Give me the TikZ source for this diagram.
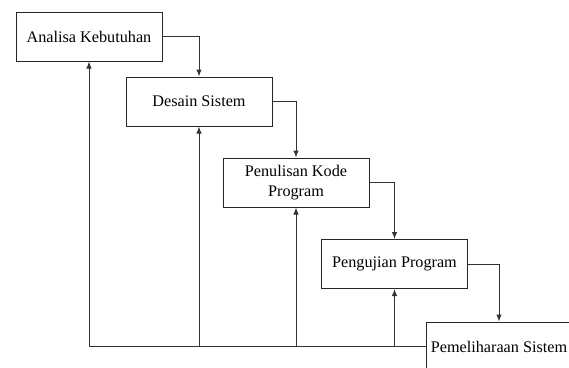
\documentclass[tikz,border=0pt]{standalone}
\usepackage{fontspec}
\setmainfont{Liberation Serif}
\usetikzlibrary{arrows.meta}
\begin{document}
\begin{tikzpicture}[line join=miter, >={Latex[length=7pt,width=5.5pt]}, x=1pt, y=-1pt,
	tahap/.style={draw=black!85, line width=1pt, minimum width=146pt, minimum height=49pt,
		align=center, font=\fontsize{16.2}{19.5}\selectfont, inner sep=2pt},
	alur/.style={draw=black!80, line width=1pt}]
	% Picture window
	\useasboundingbox (0,0) rectangle (569,367);
	
	% Stages of the waterfall
	\node[tahap] (analisa) at (89,36.5) {Analisa Kebutuhan};
	\node[tahap] (desain) at (199,101.5) {Desain Sistem};
	\node[tahap] (kode) at (296,182.5) {Penulisan Kode\\Program};
	\node[tahap] (uji) at (394.5,264) {Pengujian Program};
	\node[tahap] (pelihara) at (499,346.5) {Pemeliharaan Sistem};
	
	% Forward flow, stage to stage
	\draw[alur, ->] (analisa.east) -| (desain.north);
	\draw[alur, ->] (desain.east) -| (kode.north);
	\draw[alur, ->] (kode.east) -| (uji.north);
	\draw[alur, ->] (uji.east) -| (pelihara.north);
	
	% Feedback line back to every stage
	\coordinate (balik) at (pelihara.west -| analisa.south);
	\draw[alur, ->] (pelihara.west) -- (balik) -- (analisa.south);
	\draw[alur, ->] (desain.south |- balik) -- (desain.south);
	\draw[alur, ->] (kode.south |- balik) -- (kode.south);
	\draw[alur, ->] (uji.south |- balik) -- (uji.south);
\end{tikzpicture}
\end{document}
